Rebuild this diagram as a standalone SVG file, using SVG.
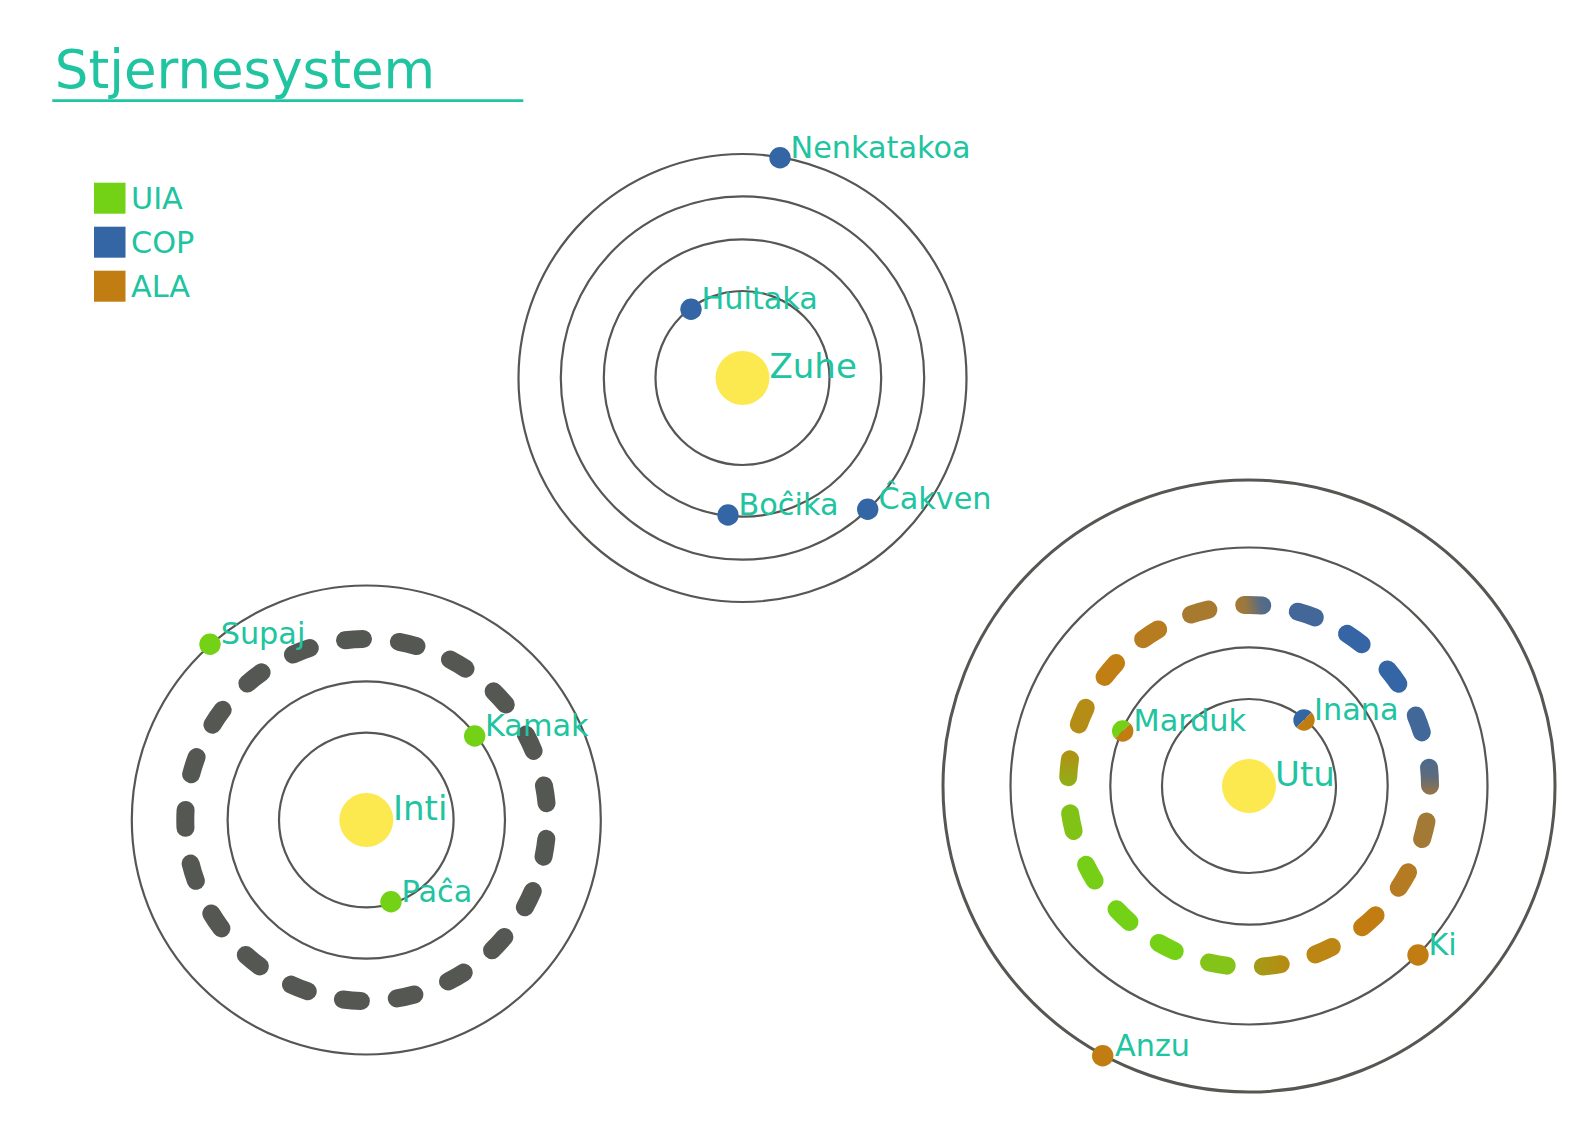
<svg xmlns="http://www.w3.org/2000/svg" width="1590" height="1124" viewBox="0 0 1590 1124">
  <style>
    .txt { font-family: "DejaVu Sans", "Liberation Sans", sans-serif; fill: #20c4a0; }
    .lbl { font-size: 30.3px; }
    .sunlbl { font-size: 34px; }
    .title { font-size: 53px; }
    .orbit { fill: none; stroke: #555753; stroke-width: 2.2; }
    .orbit-thick { fill: none; stroke: #555753; stroke-width: 3; }
    .sun { fill: #fce94f; }
    .uia { fill: #73d216; }
    .cop { fill: #3465a4; }
    .ala { fill: #c17d11; }
    .dash { fill: none; stroke-width: 18; stroke-linecap: round; }
  </style>
  <defs>
    <linearGradient id="g0" gradientUnits="userSpaceOnUse" x1="1430" y1="758" x2="1430" y2="795">
      <stop offset="0" stop-color="#4b6a8e"/>
      <stop offset="0.5" stop-color="#5d6c7c"/>
      <stop offset="1" stop-color="#9a7544"/>
    </linearGradient>
    <linearGradient id="g5" gradientUnits="userSpaceOnUse" x1="1290" y1="963" x2="1254" y2="967">
      <stop offset="0" stop-color="#b88a12"/>
      <stop offset="1" stop-color="#a29c16"/>
    </linearGradient>
    <linearGradient id="g11" gradientUnits="userSpaceOnUse" x1="1069" y1="786" x2="1070" y2="750">
      <stop offset="0" stop-color="#90b017"/>
      <stop offset="1" stop-color="#b28f14"/>
    </linearGradient>
    <linearGradient id="g16" gradientUnits="userSpaceOnUse" x1="1235" y1="608" x2="1271" y2="602">
      <stop offset="0" stop-color="#a67a34"/>
      <stop offset="0.3" stop-color="#9a7840"/>
      <stop offset="0.7" stop-color="#5a6c82"/>
      <stop offset="1" stop-color="#4a6a90"/>
    </linearGradient>
  </defs>
  <rect x="0" y="0" width="1590" height="1124" fill="#ffffff"/>

  <g id="title">
    <text class="txt title" x="54.8" y="88.3">Stjernesystem</text>
    <line x1="52.3" y1="100.7" x2="523.3" y2="100.7" stroke="#20c4a0" stroke-width="2.7"/>
  </g>

  <g id="legend">
    <g id="legend-uia">
      <rect class="uia" x="94" y="182.7" width="31.5" height="31"/>
      <text class="txt lbl" x="131" y="209.3">UIA</text>
    </g>
    <g id="legend-cop">
      <rect class="cop" x="94" y="226.7" width="31.5" height="31"/>
      <text class="txt lbl" x="131" y="253">COP</text>
    </g>
    <g id="legend-ala">
      <rect class="ala" x="94" y="270.7" width="31.5" height="31"/>
      <text class="txt lbl" x="131" y="297">ALA</text>
    </g>
  </g>

  <g id="connectors">
    <g id="orbits-zuhe">
      <circle class="orbit" cx="742.5" cy="378" r="87"/>
      <circle class="orbit" cx="742.5" cy="378" r="138.7"/>
      <circle class="orbit" cx="742.5" cy="378" r="181.7"/>
      <circle class="orbit" cx="742.5" cy="378" r="224"/>
    </g>
    <g id="orbits-inti">
      <circle class="orbit" cx="366.3" cy="820" r="87.3"/>
      <circle class="orbit" cx="366.3" cy="820" r="138.7"/>
      <path class="dash" stroke="#555753" stroke-dasharray="18 36.155" stroke-dashoffset="35.23" d="M 547.3 820 A 181 181 0 0 1 185.3 820 A 181 181 0 0 1 547.3 820"/>
      <circle class="orbit" cx="366.3" cy="820" r="234.5"/>
    </g>
    <g id="orbits-utu">
      <circle class="orbit" cx="1249" cy="786" r="87"/>
      <circle class="orbit" cx="1249" cy="786" r="138.7"/>
      <g id="utu-dashed-orbit">
        <path class="dash" stroke="url(#g0)" d="M 1429.07 767.71 A 181 181 0 0 1 1430.00 785.68"/>
        <path class="dash" stroke="#a37a35" d="M 1426.47 821.59 A 181 181 0 0 1 1422.05 839.04"/>
        <path class="dash" stroke="#b57b22" d="M 1408.08 872.33 A 181 181 0 0 1 1398.72 887.71"/>
        <path class="dash" stroke="#c17d11" d="M 1375.59 915.36 A 181 181 0 0 1 1362.12 927.30"/>
        <path class="dash" stroke="#bb8613" d="M 1331.82 946.94 A 181 181 0 0 1 1315.40 954.38"/>
        <path class="dash" stroke="url(#g5)" d="M 1280.71 964.20 A 181 181 0 0 1 1262.86 966.47"/>
        <path class="dash" stroke="#84c318" d="M 1226.75 965.63 A 181 181 0 0 1 1209.02 962.53"/>
        <path class="dash" stroke="#74d116" d="M 1174.80 951.09 A 181 181 0 0 1 1158.77 942.91"/>
        <path class="dash" stroke="#73d216" d="M 1129.46 921.91 A 181 181 0 0 1 1116.52 909.33"/>
        <path class="dash" stroke="#76cf16" d="M 1094.68 880.59 A 181 181 0 0 1 1086.05 864.80"/>
        <path class="dash" stroke="#80c316" d="M 1073.66 830.92 A 181 181 0 0 1 1070.07 813.28"/>
        <path class="dash" stroke="url(#g11)" d="M 1068.21 777.25 A 181 181 0 0 1 1069.97 759.34"/>
        <path class="dash" stroke="#b58c15" d="M 1078.82 724.36 A 181 181 0 0 1 1085.78 707.77"/>
        <path class="dash" stroke="#c17e12" d="M 1104.59 676.89 A 181 181 0 0 1 1116.13 663.09"/>
        <path class="dash" stroke="#b77b20" d="M 1143.12 639.20 A 181 181 0 0 1 1158.23 629.41"/>
        <path class="dash" stroke="#a87a2f" d="M 1191.09 614.51 A 181 181 0 0 1 1208.41 609.61"/>
        <path class="dash" stroke="url(#g16)" d="M 1244.23 605.06 A 181 181 0 0 1 1262.22 605.48"/>
        <path class="dash" stroke="#436799" d="M 1297.76 611.69 A 181 181 0 0 1 1314.84 617.40"/>
        <path class="dash" stroke="#3565a4" d="M 1346.97 633.80 A 181 181 0 0 1 1361.65 644.33"/>
        <path class="dash" stroke="#3465a4" d="M 1387.46 669.42 A 181 181 0 0 1 1398.36 683.76"/>
        <path class="dash" stroke="#42689a" d="M 1415.69 715.45 A 181 181 0 0 1 1421.87 732.38"/>
      </g>
      <circle class="orbit" cx="1249" cy="786" r="238.5"/>
      <circle class="orbit-thick" cx="1249" cy="786" r="306"/>
    </g>
  </g>

  <g id="zuhe">
    <circle class="sun" cx="742.5" cy="378" r="27"/>
    <text class="txt sunlbl" x="769.5" y="378">Zuhe</text>
  </g>
  <g id="nenkatakoa">
    <circle class="cop" cx="780" cy="157.7" r="10.7"/>
    <text class="txt lbl" x="790.5" y="157.7">Nenkatakoa</text>
  </g>
  <g id="huitaka">
    <circle class="cop" cx="691" cy="309.3" r="10.7"/>
    <text class="txt lbl" x="701.5" y="309.3">Huitaka</text>
  </g>
  <g id="bocika">
    <circle class="cop" cx="728" cy="515" r="10.7"/>
    <text class="txt lbl" x="738.5" y="515">Boĉika</text>
  </g>
  <g id="cakven">
    <circle class="cop" cx="867.7" cy="509.3" r="10.7"/>
    <text class="txt lbl" x="878.5" y="509.3">Ĉakven</text>
  </g>

  <g id="inti">
    <circle class="sun" cx="366.3" cy="820" r="27"/>
    <text class="txt sunlbl" x="393" y="820">Inti</text>
  </g>
  <g id="supaj">
    <circle class="uia" cx="210" cy="644.3" r="10.7"/>
    <text class="txt lbl" x="220.7" y="644.3">Supaj</text>
  </g>
  <g id="kamak">
    <circle class="uia" cx="474.7" cy="736" r="10.7"/>
    <text class="txt lbl" x="485" y="736">Kamak</text>
  </g>
  <g id="paca">
    <circle class="uia" cx="391" cy="901.7" r="10.7"/>
    <text class="txt lbl" x="401.5" y="901.7">Paĉa</text>
  </g>

  <g id="utu">
    <circle class="sun" cx="1249" cy="786" r="27"/>
    <text class="txt sunlbl" x="1275" y="786">Utu</text>
  </g>
  <g id="marduk">
    <path class="uia" d="M 1115.13 738.57 A 10.7 10.7 0 0 1 1130.27 723.43 Z"/>
    <path class="ala" d="M 1130.27 723.43 A 10.7 10.7 0 0 1 1115.13 738.57 Z"/>
    <text class="txt lbl" x="1133.5" y="731">Marduk</text>
  </g>
  <g id="inana">
    <path class="cop" d="M 1296.43 727.57 A 10.7 10.7 0 0 1 1311.57 712.43 Z"/>
    <path class="ala" d="M 1311.57 712.43 A 10.7 10.7 0 0 1 1296.43 727.57 Z"/>
    <text class="txt lbl" x="1314" y="720">Inana</text>
  </g>
  <g id="ki">
    <circle class="ala" cx="1418" cy="955" r="10.7"/>
    <text class="txt lbl" x="1428.5" y="955">Ki</text>
  </g>
  <g id="anzu">
    <circle class="ala" cx="1102.7" cy="1055.7" r="10.7"/>
    <text class="txt lbl" x="1115" y="1055.7">Anzu</text>
  </g>
</svg>
